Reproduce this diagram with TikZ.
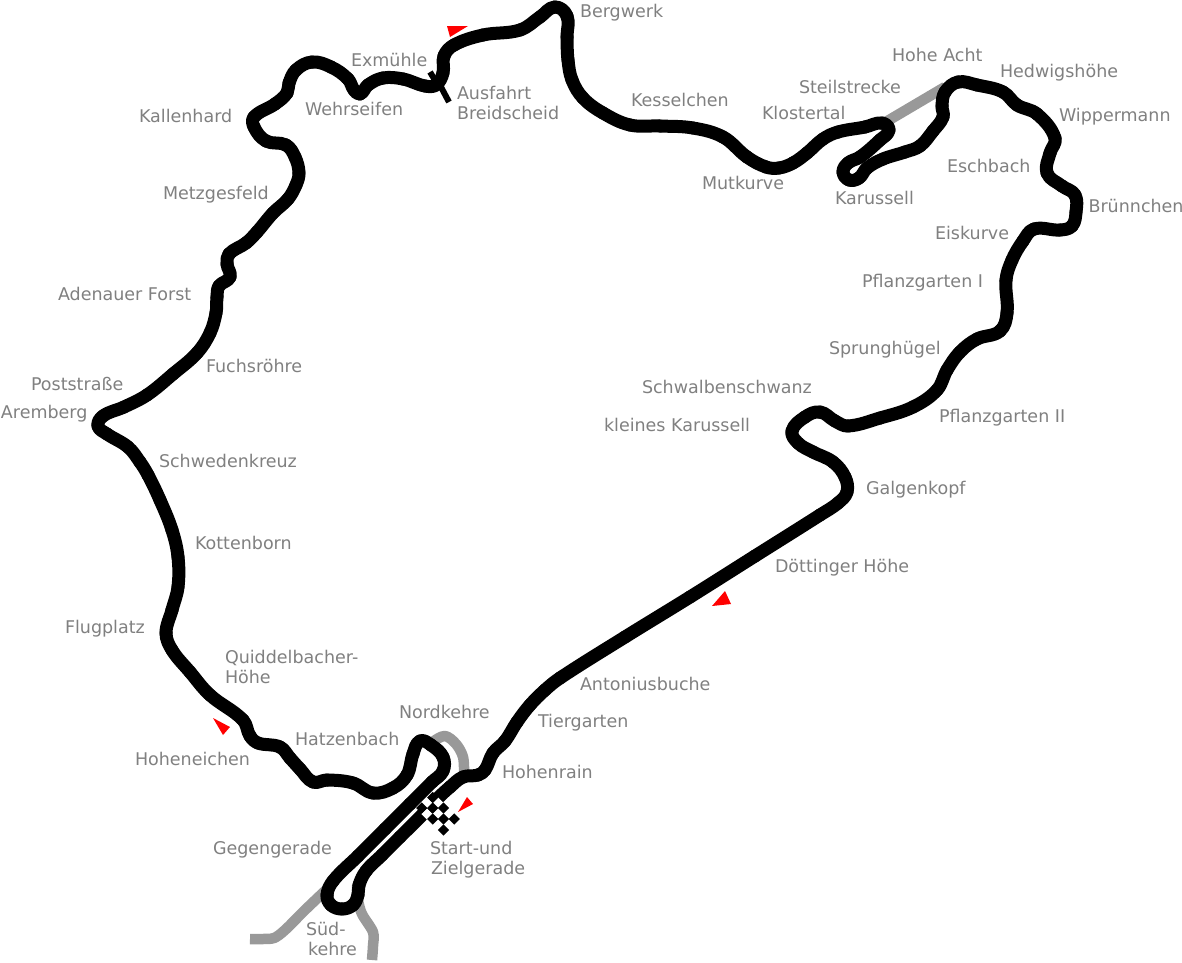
\documentclass[tikz,border=0pt]{standalone}
\usepackage{fontspec}
\usetikzlibrary{calc}
\setmainfont{DejaVu Sans}
\tikzset{
  place/.style={anchor=base west,inner sep=0pt,outer sep=0pt,text=labelgrey,font=\fontsize{17.5}{20}\selectfont,align=left},
  track/.style={draw=black,line width=13pt,line join=round,line cap=round},
  oldtrack/.style={draw=trackgrey,line width=10.5pt,line join=round},
  marker/.style={fill=red,draw=none},
  checkblack/.style={fill=black,draw=none},
  checkwhite/.style={fill=white,draw=none},
  exit/.style={draw=black,line width=6pt}
}
\definecolor{labelgrey}{HTML}{808080}
\definecolor{trackgrey}{HTML}{999999}
\begin{document}
\begin{tikzpicture}[x=1pt,y=-1pt]
\useasboundingbox (0,0) rectangle (1182,962);
% grey sections
\draw[oldtrack] (884,123) -- (945,87);
\draw[oldtrack] plot[smooth,tension=0.6] coordinates {(434,741) (445,736) (456,744) (463,757) (464,773)};
\draw[oldtrack] plot[smooth,tension=0.5] coordinates {(250,939) (262,939) (274,938) (285,930) (305,910) (326,890)};
\draw[oldtrack] plot[smooth,tension=0.5] coordinates {(357,885) (358,900) (362,914) (373,932) (373,946) (372,960)};
% exit ticks
\draw[exit] (430,72) -- (436,82);
\draw[exit] (441,87) -- (449,102);
% main circuit: points along the centre line
\foreach \px/\py [count=\c] in {
437/799,450/787,463/777,478/775,485/770,493/753,505/741,517/722,530/705,545/690,560/678,
625/637,690/597,755/556,820/515,838/503,847/492,845/477,833/462,813/452,798/443,792/431,805/417,820/412,835/421,848/426,
880/418,913/407,937/390,947/370,960/352,977/339,1000/331,1007/313,1006/280,1012/260,1023/241,1034/229,1060/230,1072/226,1076/212,
1075/195,1062/186,1047/173,1050/153,1055/138,1037/114,1017/105,1003/92,977/85,958/82,945/92,942/106,943/117,933/131,
920/146,905/152,883/159,867/168,859/178,849/180,843/172,848/163,860/157,880/140,889/130,882/123,865/127,838/132,823/139,807/153,793/163,
779/168,766/167,747/157,723/137,693/128,660/126,630/125,603/113,583/98,572/80,568/60,567/37,567/16,555/7,540/17,520/30,483/35,454/45,
444/56,443/73,436/85,425/86,403/79,383/78,368/85,360/94,354/90,348/79,331/67,312/62,296/70,289/83,287/93,275/104,254/117,254/127,
266/141,286/145,295/157,299/173,296/185,288/199,273/213,257/232,246/243,229/254,227/264,230/277,219/286,217/297,216/313,210/333,197/353,173/374,147/395,124/407,
103/416,98/426,107/434,128/447,140/462,148/475,160/500,172/530,178/557,178/587,172/610,166/633,172/650,190/672,210/695,243/720,250/736,258/743,280/747,290/758,
300/769,313/782,327/780,353/783,373/793,393/788,407/775,413/754,420/741,431/745,443/757,443/771,432/782,410/804,385/829,358/856,333/881,327/895,331/905,342/909,
353/905,358/895,359/885,366/871,382/855,400/837,423/814}{
  \coordinate (p\c) at (\px,\py);
  \xdef\npts{\c}
}
\foreach \i in {1,...,\npts}{
  \pgfmathtruncatemacro\ia{mod(\i+\npts-2,\npts)+1}
  \pgfmathtruncatemacro\ib{mod(\i,\npts)+1}
  \pgfmathtruncatemacro\ic{mod(\i+1,\npts)+1}
  \draw[track] let \p0=(p\ia), \p1=(p\i), \p2=(p\ib), \p3=(p\ic),
      \n1={veclen(\x2-\x0,\y2-\y0)}, \n2={veclen(\x3-\x1,\y3-\y1)}, \n3={veclen(\x2-\x1,\y2-\y1)} in
    (\p1) .. controls ({\x1+(\x2-\x0)*(\n3/\n1)*0.36},{\y1+(\y2-\y0)*(\n3/\n1)*0.36})
              and ({\x2-(\x3-\x1)*(\n3/\n2)*0.36},{\y2-(\y3-\y1)*(\n3/\n2)*0.36}) .. (\p2);
}
% chequered flag
\foreach \cx/\cy [count=\i] in {427/803,438/803,427/814}
  \fill[checkwhite] (\cx-5.7,\cy) -- (\cx,\cy-5.7) -- (\cx+5.7,\cy) -- (\cx,\cy+5.7) -- cycle;
\foreach \cx/\cy [count=\i] in {421.7/808,432.7/808,443.5/808,432.7/797.5,432.7/819,443.5/819,454.2/819,443.5/830}
  \fill[checkblack] (\cx-5.6,\cy) -- (\cx,\cy-5.6) -- (\cx+5.6,\cy) -- (\cx,\cy+5.6) -- cycle;
% direction markers
\fill[marker] (447,26) -- (468,26) -- (450,37) -- cycle;
\fill[marker] (712,606) -- (731,604) -- (725,591) -- cycle;
\fill[marker] (213,718) -- (230,727) -- (223,735) -- cycle;
\fill[marker] (467,797) -- (473,804) -- (458,812) -- cycle;
% labels
\node[place] (l1) at (580,17) {Bergwerk};
\node[place] (l2) at (892,61) {Hohe Acht};
\node[place] (l3) at (1000,77) {Hedwigshöhe};
\node[place] (l4) at (799,93) {Steilstrecke};
\node[place] (l5) at (762,119) {Klostertal};
\node[place] (l6) at (1059,121) {Wippermann};
\node[place] (l7) at (631,106) {Kesselchen};
\node[place] (l8) at (351,66) {Exmühle};
\node[place] (l9a) at (457,99) {Ausfahrt};
\node[place] (l9b) at (457,119) {Breidscheid};
\node[place] (l10) at (305,115) {Wehrseifen};
\node[place] (l11) at (139,122) {Kallenhard};
\node[place] (l12) at (947,172) {Eschbach};
\node[place] (l13) at (702,189) {Mutkurve};
\node[place] (l14) at (835,204) {Karussell};
\node[place] (l15) at (163,199) {Metzgesfeld};
\node[place] (l16) at (1088.5,212) {Brünnchen};
\node[place] (l17) at (935,239) {Eiskurve};
\node[place] (l18) at (862,287) {Pflanzgarten I};
\node[place] (l19) at (58,300) {Adenauer Forst};
\node[place] (l20) at (829,354) {Sprunghügel};
\node[place] (l21) at (206,372) {Fuchsröhre};
\node[place] (l22) at (642,393) {Schwalbenschwanz};
\node[place] (l23) at (31,390) {Poststraße};
\node[place] (l24) at (1,418) {Aremberg};
\node[place] (l25) at (939,422) {Pflanzgarten II};
\node[place] (l26) at (604,431) {kleines Karussell};
\node[place] (l27) at (159,467) {Schwedenkreuz};
\node[place] (l28) at (866,494) {Galgenkopf};
\node[place] (l29) at (195,549) {Kottenborn};
\node[place] (l30) at (775,572) {Döttinger Höhe};
\node[place] (l31) at (65,633) {Flugplatz};
\node[place] (l32a) at (225,663) {Quiddelbacher-};
\node[place] (l32b) at (225,683) {Höhe};
\node[place] (l33) at (580,690) {Antoniusbuche};
\node[place] (l34) at (399,718) {Nordkehre};
\node[place] (l35) at (538,727) {Tiergarten};
\node[place] (l36) at (295,745) {Hatzenbach};
\node[place] (l37) at (135,765) {Hoheneichen};
\node[place] (l38) at (502,778) {Hohenrain};
\node[place] (l39) at (213,854) {Gegengerade};
\node[place] (l40a) at (430,854) {Start-und};
\node[place] (l40b) at (431,874) {Zielgerade};
\node[place] (l41a) at (306,935) {Süd-};
\node[place] (l41b) at (308,955) {kehre};
\end{tikzpicture}
\end{document}
